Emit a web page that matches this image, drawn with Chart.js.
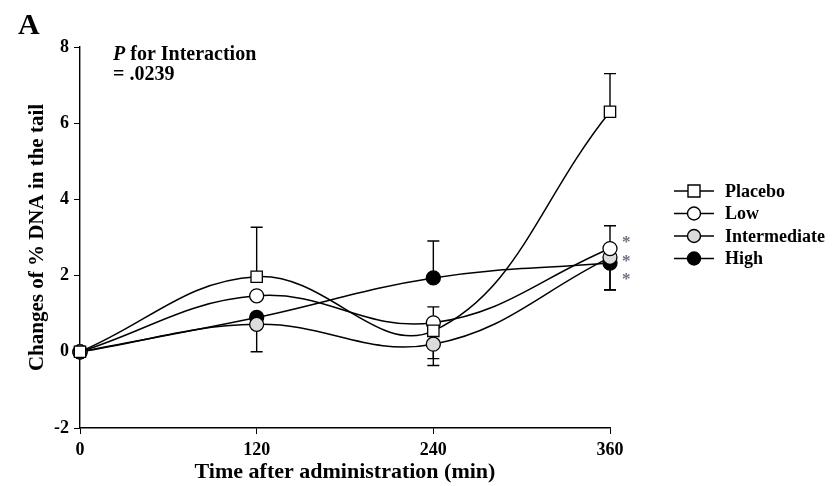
<!DOCTYPE html>
<html>
<head>
<meta charset="utf-8">
<script src="https://cdn.jsdelivr.net/npm/chart.js@4.4.1/dist/chart.umd.min.js"></script>
<style>
  html, body { margin: 0; padding: 0; background: #fff; }
  #wrap { width: 836px; height: 486px; position: relative; }
</style>
</head>
<body>
<div id="wrap"><canvas id="dnaChart"></canvas></div>
<script>
const times = [0, 120, 240, 360];
const seriesNames = ['Placebo', 'Low', 'Intermediate', 'High'];

const placebo = [0, 1.97, 0.55, 6.3];
const low = [0, 1.47, 0.76, 2.71];
const intermediate = [0, 0.72, 0.2, 2.48];
const high = [0, 0.9, 1.94, 2.33];

// error bar lengths shown on the figure (up / down), null = not visible
const placeboUp = [null, 1.3, null, 1.0];
const placeboDown = [null, null, 0.73, null];
const lowUp = [null, null, 0.42, 0.6];
const lowDown = [null, null, null, null];
const intermediateUp = [null, null, null, null];
const intermediateDown = [null, 0.72, 0.56, 0.86];
const highUp = [null, null, 0.97, null];
const highDown = [null, null, null, 0.7];

const yTicks = [-2, 0, 2, 4, 6, 8];
const xTicks = [0, 120, 240, 360];
const starValues = [2.98, 2.48, 2.0];

const serif = "'Liberation Serif', 'Times New Roman', serif";

const makeSet = (label, values, up, down, style, fill) => ({
  label,
  data: times.map((t, i) => ({ x: t, y: values[i] })),
  errUp: up,
  errDown: down,
  borderColor: '#000',
  borderWidth: 1.5,
  pointStyle: style,
  pointRadius: style === 'rect' ? 8 : 7,
  pointBackgroundColor: fill,
  pointBorderColor: '#000',
  pointBorderWidth: 1.3,
  tension: 0.4,
  clip: false,
  fill: false,
});

const errorBars = {
  id: 'errorBars',
  beforeDatasetsDraw(chart) {
    const { ctx, scales: { x, y } } = chart;
    ctx.save();
    ctx.strokeStyle = '#000';
    ctx.lineWidth = 1.4;
    chart.data.datasets.forEach((ds) => {
      ds.data.forEach((p, i) => {
        const px = x.getPixelForValue(p.x);
        const py = y.getPixelForValue(p.y);
        [[ds.errUp[i], 1], [ds.errDown[i], -1]].forEach(([e, dir]) => {
          if (e == null) return;
          const ey = y.getPixelForValue(p.y + dir * e);
          ctx.beginPath();
          ctx.moveTo(px, py);
          ctx.lineTo(px, ey);
          ctx.moveTo(px - 6, ey);
          ctx.lineTo(px + 6, ey);
          ctx.stroke();
        });
      });
    });
    ctx.restore();
  }
};

const annotations = {
  id: 'annotations',
  afterDraw(chart) {
    const { ctx, scales: { x, y } } = chart;
    ctx.save();
    ctx.fillStyle = '#000';
    ctx.textBaseline = 'middle';
    ctx.textAlign = 'left';
    ctx.font = `bold 30px ${serif}`;
    ctx.fillText('A', 18, 26);

    ctx.font = `italic bold 20px ${serif}`;
    ctx.fillText('P', 113, 55);
    const pw = ctx.measureText('P').width;
    ctx.font = `bold 20px ${serif}`;
    ctx.fillText(' for Interaction', 113 + pw, 55);
    ctx.fillText('= .0239', 113, 75);

    // significance marks
    ctx.fillStyle = '#6b7380';
    ctx.font = `bold 17px ${serif}`;
    const sx = x.getPixelForValue(360) + 12;
    starValues.forEach(v => ctx.fillText('*', sx, y.getPixelForValue(v) + 4));

    // legend
    const lx = 674, ly0 = 191, step = 22.5;
    chart.data.datasets.forEach((ds, i) => {
      const ly = ly0 + i * step;
      ctx.strokeStyle = '#000';
      ctx.lineWidth = 1.4;
      ctx.beginPath();
      ctx.moveTo(lx, ly);
      ctx.lineTo(lx + 40, ly);
      ctx.stroke();
      ctx.fillStyle = ds.pointBackgroundColor;
      ctx.beginPath();
      if (ds.pointStyle === 'rect') {
        ctx.rect(lx + 14, ly - 6, 12, 12);
      } else {
        ctx.arc(lx + 20, ly, 6.5, 0, Math.PI * 2);
      }
      ctx.fill();
      ctx.stroke();
      ctx.fillStyle = '#000';
      ctx.font = `bold 18px ${serif}`;
      ctx.fillText(ds.label, lx + 51, ly + 1);
    });
    ctx.restore();
  }
};

new Chart(document.getElementById('dnaChart'), {
  type: 'line',
  data: {
    datasets: [
      makeSet(seriesNames[0], placebo, placeboUp, placeboDown, 'rect', '#fff'),
      makeSet(seriesNames[1], low, lowUp, lowDown, 'circle', '#fff'),
      makeSet(seriesNames[2], intermediate, intermediateUp, intermediateDown, 'circle', '#dcdcdc'),
      makeSet(seriesNames[3], high, highUp, highDown, 'circle', '#000'),
    ],
  },
  options: {
    responsive: true,
    maintainAspectRatio: false,
    animation: false,
    layout: { padding: { top: 47, right: 226, left: 0, bottom: 0 } },
    plugins: {
      legend: { display: false },
      tooltip: { enabled: false },
    },
    scales: {
      x: {
        type: 'linear',
        min: 0,
        max: 360,
        afterBuildTicks: (s) => { s.ticks = xTicks.map(v => ({ value: v })); },
        afterFit: (s) => { s.height = 58; },
        grid: { drawOnChartArea: false, drawTicks: true, tickLength: 6, color: '#000' },
        border: { display: true, color: '#000', width: 1.4 },
        ticks: { color: '#000', padding: 6, font: { family: serif, size: 18, weight: 'bold' } },
        title: {
          display: true,
          text: 'Time after administration (min)',
          color: '#000',
          padding: { top: 0, bottom: 0 },
          font: { family: serif, size: 22, weight: 'bold' },
        },
      },
      y: {
        min: -2,
        max: 8,
        afterBuildTicks: (s) => { s.ticks = yTicks.map(v => ({ value: v })); },
        afterFit: (s) => { s.width = 80; },
        grid: { drawOnChartArea: false, drawTicks: true, tickLength: 6, color: '#000' },
        border: { display: true, color: '#000', width: 1.4 },
        ticks: { color: '#000', padding: 5, font: { family: serif, size: 18, weight: 'bold' } },
        title: {
          display: true,
          text: 'Changes of % DNA in the tail',
          color: '#000',
          padding: { top: 25, bottom: 0 },
          font: { family: serif, size: 21, weight: 'bold' },
        },
      },
    },
  },
  plugins: [errorBars, annotations],
});
</script>
</body>
</html>
